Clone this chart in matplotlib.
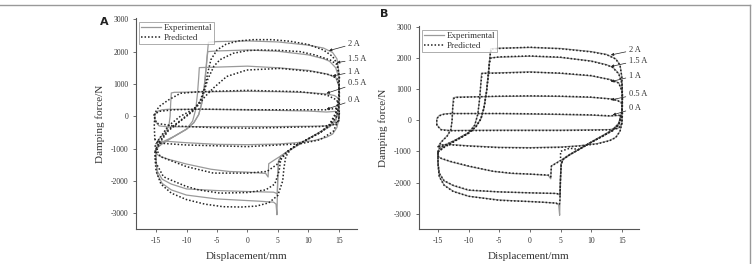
import matplotlib
matplotlib.use("Agg")
import matplotlib.pyplot as plt
from matplotlib.lines import Line2D

plt.rcParams['font.family'] = ['Liberation Serif', 'DejaVu Serif']
plt.rcParams['axes.unicode_minus'] = False

currents = ["2 A", "1.5 A", "1 A", "0.5 A", "0 A"]

# ---------------- Experimental loops (displacement mm, force N) ----------------
exp_2A_x = [-15, -14, -12, -10, -8.8, -8.0, -7.5, -7.1, -6.8, -6.5, -6.4, -5, 0, 5, 10, 12.5, 14, 14.7, 15.0, 15.1, 15.0, 14.5, 13.5, 12, 10, 8, 6.5, 5.4, 5.1, 5.0, 4.9, 4.85, 4.7, 4.3, 2, 0, -5, -10, -12.5, -14, -14.8, -15.0, -15]
exp_2A_f = [-1000, -850, -620, -400, -200, 50, 400, 900, 1500, 2100, 2290, 2310, 2330, 2300, 2200, 2110, 1970, 1780, 1400, 800, 300, -100, -300, -480, -700, -930, -1100, -1250, -1400, -1800, -2600, -3050, -2720, -2660, -2630, -2610, -2560, -2440, -2280, -2080, -1800, -1400, -1000]

exp_15A_x = [-15, -14, -12, -10, -8.8, -8.0, -7.5, -7.1, -6.8, -6.6, -6.5, -5, 0, 5, 10, 12.5, 13.5, 14.5, 15.0, 15.1, 15.0, 14.5, 13.5, 12, 10, 8, 6.5, 5.4, 5.1, 5.0, 4.9, 4.7, 4.3, 2, 0, -5, -10, -12.5, -14, -14.8, -15.0, -15]
exp_15A_f = [-1000, -850, -620, -400, -200, 50, 400, 900, 1400, 1850, 2000, 2020, 2050, 2010, 1900, 1780, 1700, 1500, 1200, 700, 250, -100, -300, -480, -700, -930, -1100, -1250, -1400, -1800, -2420, -2380, -2350, -2340, -2330, -2300, -2250, -2100, -1950, -1700, -1350, -1000]

exp_1A_x = [-15, -14.8, -14, -12, -10, -9, -8.5, -8.2, -8.0, -7.9, -5, 0, 5, 10, 13, 14.5, 15.0, 15.1, 15.0, 14.5, 13.5, 12, 10, 8, 6.5, 5.3, 4.3, 3.5, 3.4, 3.0, 0, -3, -6, -10, -13, -14.5, -15.0, -15]
exp_1A_f = [-1000, -900, -800, -620, -400, -150, 200, 700, 1200, 1505, 1520, 1550, 1500, 1420, 1310, 1200, 950, 500, 150, -150, -330, -480, -700, -930, -1100, -1250, -1370, -1470, -1880, -1770, -1730, -1710, -1640, -1480, -1330, -1230, -1150, -1000]

exp_05A_x = [-15, -14.5, -13.5, -12.9, -12.7, -12.6, -12.5, -12.0, -5, 0, 5, 10, 13, 14.3, 15.0, 15.1, 15.0, 14.7, 14.0, 13.0, 11, 8, 5, 0, -5, -10, -13, -14.5, -15]
exp_05A_f = [-850, -700, -500, -300, 0, 400, 720, 740, 760, 770, 760, 730, 690, 640, 550, 200, -100, -350, -550, -650, -750, -820, -860, -880, -870, -820, -780, -790, -850]

exp_0A_x = [-15.2, -15.2, -14.8, -14, -13, -5, 0, 5, 10, 13, 14.5, 15.0, 15.0, 14.5, 13, 10, 5, 0, -5, -10, -13, -14.5, -15.2]
exp_0A_f = [-150, 50, 150, 200, 215, 210, 195, 180, 160, 130, 150, 100, -100, -250, -300, -310, -320, -320, -320, -325, -330, -300, -150]

# ---------------- Predicted loops, panel A (first model) ----------------
predA_2A_x = [-15.2, -14.5, -13, -11, -9, -7.8, -7.0, -6.5, -6.0, -5.0, -3.5, -1.5, 1, 4, 7, 10, 12.5, 14, 14.8, 15.1, 15.0, 14.5, 13.5, 12, 10, 8, 7, 6.3, 6.0, 5.8, 5.0, 3.5, 1.5, -1, -4, -7, -10, -12.5, -14.2, -15.0, -15.2]
predA_2A_f = [-1250, -850, -450, -150, 150, 450, 900, 1350, 1750, 2050, 2230, 2330, 2370, 2370, 2320, 2220, 2050, 1850, 1600, 1200, 600, 100, -250, -500, -700, -900, -1050, -1250, -1600, -2000, -2450, -2680, -2780, -2810, -2800, -2720, -2580, -2380, -2100, -1700, -1250]

predA_15A_x = [-15.2, -14.5, -13, -11, -9, -7.8, -7.2, -6.5, -5.5, -4.5, -2.3, 0, 2, 5, 8.6, 11, 13.6, 14.7, 15.1, 15.0, 14.5, 13.5, 12, 10, 8, 6.5, 5.5, 5.2, 4.5, 3, 0, -4.5, -8, -10, -12.5, -13.8, -15.0, -15.2]
predA_15A_f = [-1100, -800, -420, -130, 170, 450, 700, 1150, 1550, 1750, 1950, 2030, 2050, 2040, 2000, 1900, 1740, 1600, 1200, 500, 50, -270, -500, -700, -900, -1100, -1300, -1700, -2100, -2280, -2360, -2380, -2280, -2175, -1980, -1870, -1450, -1100]

predA_1A_x = [-15.2, -14.5, -13, -11, -9, -8, -7, -5.6, -3.4, -0.1, 5.4, 10.8, 13.6, 14.7, 15.1, 15.1, 14.7, 13.5, 12, 10, 8, 6.5, 5.9, 4.8, 3.2, 0, -5.6, -10, -14.3, -15.2]
predA_1A_f = [-940, -700, -300, 0, 200, 350, 600, 870, 1230, 1430, 1480, 1380, 1280, 1170, 900, 400, 0, -300, -500, -700, -900, -1100, -1250, -1500, -1710, -1760, -1760, -1560, -1250, -940]

predA_05A_x = [-15.2, -15.3, -15.2, -14.5, -13, -11, -7.8, 0, 8.6, 13, 14.7, 15.1, 15.0, 14.1, 11.9, 8.6, 0, -10, -14.3, -15.2]
predA_05A_f = [-730, -300, 100, 300, 500, 710, 760, 800, 760, 660, 500, 200, -100, -470, -730, -855, -940, -890, -835, -730]

predA_0A_x = [-15.4, -14.5, -12.2, -7.8, 0.5, 8, 13, 14.7, 15.1, 15.0, 14.0, 11.9, 5, 0, -6, -12.2, -14.9, -15.4]
predA_0A_f = [40, 150, 200, 220, 200, 200, 200, 250, 100, -150, -270, -320, -350, -370, -350, -300, -220, 40]

# ---------------- Predicted loops, panel B (improved model) ----------------
predB_2A_x = [-15, -14, -12, -10, -8.8, -8.0, -7.5, -7.1, -6.8, -6.5, -6.3, -5, 0, 5, 10, 12.5, 14, 14.7, 15.0, 15.1, 15.0, 14.5, 13.5, 12, 10, 8, 6.5, 5.4, 5.1, 5.0, 4.9, 4.8, 4.6, 4.3, 2, 0, -5, -10, -12.5, -14, -14.8, -15.0, -15]
predB_2A_f = [-1020, -870, -640, -420, -210, 40, 380, 880, 1480, 2080, 2280, 2300, 2340, 2290, 2190, 2100, 1960, 1760, 1380, 780, 280, -120, -320, -500, -710, -940, -1110, -1260, -1420, -1820, -2560, -2700, -2700, -2660, -2630, -2610, -2570, -2440, -2290, -2090, -1810, -1420, -1020]

predB_15A_x = [-15, -14, -12, -10, -8.8, -8.0, -7.5, -7.1, -6.8, -6.6, -6.4, -5, 0, 5, 10, 12.5, 13.5, 14.5, 15.0, 15.1, 15.0, 14.5, 13.5, 12, 10, 8, 6.5, 5.4, 5.1, 5.0, 4.9, 4.7, 4.3, 2, 0, -5, -10, -12.5, -14, -14.8, -15.0, -15]
predB_15A_f = [-1020, -870, -640, -410, -210, 40, 390, 880, 1380, 1830, 1990, 2030, 2060, 2020, 1890, 1770, 1690, 1480, 1180, 680, 230, -120, -320, -500, -710, -940, -1110, -1260, -1420, -1820, -2400, -2370, -2350, -2340, -2330, -2300, -2240, -2090, -1940, -1700, -1360, -1020]

predB_1A_x = [-15, -14.8, -14, -12, -10, -9, -8.5, -8.2, -8.0, -7.8, -5, 0, 5, 10, 13, 14.5, 15.0, 15.1, 15.0, 14.5, 13.5, 12, 10, 8, 6.5, 5.0, 5.0, 4.3, 3.5, 3.4, 3.0, 0, -3, -6, -10, -13, -14.5, -15.0, -15]
predB_1A_f = [-1020, -910, -810, -630, -410, -160, 190, 690, 1190, 1500, 1510, 1540, 1510, 1430, 1300, 1190, 940, 490, 140, -160, -340, -490, -710, -940, -900, -1000, -1300, -1380, -1470, -1820, -1760, -1730, -1700, -1640, -1470, -1320, -1220, -1150, -1020]

predB_05A_x = [-15, -14.5, -13.5, -12.9, -12.7, -12.6, -12.4, -12.0, -5, 0, 5, 10, 13, 14.3, 15.0, 15.1, 15.0, 14.7, 14.0, 13.0, 11, 8, 5, 0, -5, -10, -13, -14.5, -15]
predB_05A_f = [-870, -710, -510, -310, -10, 390, 700, 730, 770, 780, 770, 740, 680, 630, 540, 190, -110, -360, -560, -660, -760, -830, -870, -890, -880, -830, -790, -800, -870]

predB_0A_x = [-15.2, -15.2, -14.8, -14, -13, -5, 0, 5, 10, 13, 14.5, 15.0, 15.0, 14.5, 13, 10, 5, 0, -5, -10, -13, -14.5, -15.2]
predB_0A_f = [-160, 40, 140, 190, 210, 215, 205, 190, 170, 140, 160, 110, -110, -260, -310, -320, -330, -330, -330, -335, -340, -310, -160]

# annotation anchors (label position and arrow tip), per panel
annA_text = [(16.5, 2240), (16.5, 1760), (16.5, 1380), (16.5, 1020), (16.5, 505)]
annA_tip = [(13.4, 2030), (14.7, 1660), (14.0, 1245), (13.0, 710), (13.0, 215)]
annB_text = [(16.1, 2250), (16.1, 1910), (16.1, 1420), (16.1, 830), (16.1, 380)]
annB_tip = [(13.2, 2090), (13.2, 1720), (13.2, 1235), (13.2, 650), (13.5, 167)]

exp_loops = [(exp_2A_x, exp_2A_f), (exp_15A_x, exp_15A_f), (exp_1A_x, exp_1A_f),
             (exp_05A_x, exp_05A_f), (exp_0A_x, exp_0A_f)]
predA_loops = [(predA_2A_x, predA_2A_f), (predA_15A_x, predA_15A_f), (predA_1A_x, predA_1A_f),
               (predA_05A_x, predA_05A_f), (predA_0A_x, predA_0A_f)]
predB_loops = [(predB_2A_x, predB_2A_f), (predB_15A_x, predB_15A_f), (predB_1A_x, predB_1A_f),
               (predB_05A_x, predB_05A_f), (predB_0A_x, predB_0A_f)]

fig = plt.figure(figsize=(7.52, 2.64), dpi=100)

axA = fig.add_axes([136/752, 1-229/264, 221/752, 211/264])
axB = fig.add_axes([419/752, 1-229/264, 220/752, 203/264])

EXP_COLOR = '#9a9a9a'
PRED_COLOR = '#222222'
dotted = (0, (1.0, 1.3))

def style(ax, xlim, ylim):
    ax.set_xlim(*xlim)
    ax.set_ylim(*ylim)
    ax.set_xticks([-15, -10, -5, 0, 5, 10, 15])
    ax.set_yticks([-3000, -2000, -1000, 0, 1000, 2000, 3000])
    for s in ['top', 'right']:
        ax.spines[s].set_visible(False)
    for s in ['left', 'bottom']:
        ax.spines[s].set_color('#555555')
        ax.spines[s].set_linewidth(0.8)
    ax.tick_params(direction='out', length=2.5, width=0.6, colors='#555555',
                   labelsize=5.5, labelcolor='#333333', pad=3)
    ax.set_xlabel('Displacement/mm', fontsize=8, color='#333333', labelpad=5)
    ax.set_ylabel('Damping force/N', fontsize=8, color='#333333', labelpad=4)

def draw(ax, preds, ann_text, ann_tip):
    for (x, f) in exp_loops:
        ax.plot(x, f, color=EXP_COLOR, lw=0.9, solid_joinstyle='round')
    for (x, f) in preds:
        ax.plot(x, f, color=PRED_COLOR, lw=1.1, linestyle=dotted)
    for lab, t, p in zip(currents, ann_text, ann_tip):
        ax.annotate(lab, xy=p, xytext=t, fontsize=6, color='#333333',
                    ha='left', va='center', annotation_clip=False,
                    arrowprops=dict(arrowstyle='-|>', lw=0.5, color='#222222',
                                    mutation_scale=4, shrinkA=0, shrinkB=0))
    h = [Line2D([], [], color=EXP_COLOR, lw=0.9),
         Line2D([], [], color=PRED_COLOR, lw=1.1, linestyle=dotted)]
    leg = ax.legend(h, ['Experimental', 'Predicted'], loc='upper left',
                    bbox_to_anchor=(0.005, 0.99), fontsize=6.5, frameon=True,
                    fancybox=False, edgecolor='#888888', borderpad=0.25,
                    handlelength=2.2, handletextpad=0.3, labelspacing=0.15,
                    borderaxespad=0.2)
    leg.get_frame().set_linewidth(0.6)
    for t in leg.get_texts():
        t.set_color('#333333')

draw(axA, predA_loops, annA_text, annA_tip)
style(axA, (-18.3, 18.0), (-3490, 3040))
draw(axB, predB_loops, annB_text, annB_tip)
style(axB, (-18.1, 17.8), (-3490, 3020))

fig.text(104/752, 1-22/264, 'A', fontsize=8, fontweight='bold', family='DejaVu Sans',
         ha='center', va='center', color='#222222')
fig.text(384/752, 1-14/264, 'B', fontsize=8, fontweight='bold', family='DejaVu Sans',
         ha='center', va='center', color='#222222')

# outer frame: top rule and right rule
fig.add_artist(Line2D([0, 749.5/752], [1-5/264, 1-5/264], transform=fig.transFigure,
                      color='#999999', lw=1.0))
fig.add_artist(Line2D([749.5/752, 749.5/752], [0, 1-5/264], transform=fig.transFigure,
                      color='#999999', lw=1.0))

fig.savefig('out.png', dpi=100)
